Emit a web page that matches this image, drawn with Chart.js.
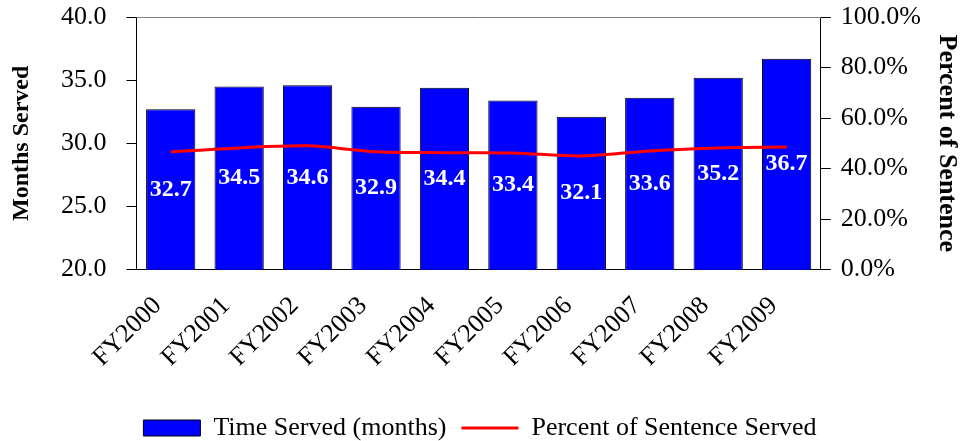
<!DOCTYPE html>
<html>
<head>
<meta charset="utf-8">
<script src="https://cdn.jsdelivr.net/npm/chart.js@4"></script>
<style>
  html, body { margin: 0; padding: 0; background: #fff; }
  #wrap { width: 960px; height: 441px; position: relative; }
</style>
</head>
<body>
<div id="wrap"><canvas id="graf"></canvas></div>
<script>
// data
const roky = ['FY2000', 'FY2001', 'FY2002', 'FY2003', 'FY2004', 'FY2005', 'FY2006', 'FY2007', 'FY2008', 'FY2009'];
const mesice = [32.7, 34.5, 34.6, 32.9, 34.4, 33.4, 32.1, 33.6, 35.2, 36.7];
const procenta = [46.6, 48.2, 49.0, 46.7, 46.3, 46.2, 45.0, 47.0, 48.2, 48.5];

const pismo = 'Liberation Serif, Times New Roman, serif';

// popisky hodnot uprostred viditelne casti sloupcu
const popiskyPlugin = {
    id: 'popisky',
    afterDatasetsDraw(chart) {
        const ctx = chart.ctx;
        const meta = chart.getDatasetMeta(0);
        const spodek = chart.chartArea.bottom;
        ctx.save();
        ctx.fillStyle = '#fff';
        ctx.font = 'bold 24px ' + pismo;
        ctx.textAlign = 'center';
        ctx.textBaseline = 'middle';
        meta.data.forEach((bar, i) => {
            const stred = (bar.y + Math.min(bar.base, spodek)) / 2;
            ctx.fillText(mesice[i].toFixed(1), bar.x, stred);
        });
        ctx.restore();
    }
};

// horni okraj plochy grafu (sedy)
const okrajPlugin = {
    id: 'okraj',
    beforeDatasetsDraw(chart) {
        const a = chart.chartArea;
        const ctx = chart.ctx;
        ctx.save();
        ctx.strokeStyle = '#808080';
        ctx.lineWidth = 1;
        ctx.beginPath();
        ctx.moveTo(a.left, a.top + 0.5);
        ctx.lineTo(a.right, a.top + 0.5);
        ctx.stroke();
        ctx.restore();
    }
};

// mensi horni odsazeni svislych os
const horniOdsazeni = scale => { scale.paddingTop = 17; };

new Chart(document.getElementById('graf'), {
    type: 'bar',
    data: {
        labels: roky,
        datasets: [{
            label: 'Time Served (months)',
            data: mesice,
            backgroundColor: '#0000ff',
            borderColor: '#000',
            borderWidth: 1,
            barPercentage: 0.72,
            categoryPercentage: 1.0,
            yAxisID: 'y',
            order: 1
        }, {
            type: 'line',
            label: 'Percent of Sentence Served',
            data: procenta,
            borderColor: '#ff0000',
            backgroundColor: '#ff0000',
            borderWidth: 3,
            pointRadius: 0,
            tension: 0.3,
            yAxisID: 'y2',
            order: 0
        }]
    },
    options: {
        responsive: true,
        maintainAspectRatio: false,
        animation: false,
        layout: { padding: { top: 0, left: 0, right: 0, bottom: -10 } },
        plugins: {
            tooltip: { enabled: false },
            legend: {
                position: 'bottom',
                labels: {
                    color: '#000',
                    font: { family: pismo, size: 26 },
                    usePointStyle: true,
                    pointStyleWidth: 57,
                    boxHeight: 16,
                    padding: 15,
                    sort: (a, b) => a.datasetIndex - b.datasetIndex,
                    generateLabels: function(chart) {
                        const items = Chart.defaults.plugins.legend.labels.generateLabels(chart);
                        items.forEach(it => {
                            if (it.datasetIndex === 0) {
                                it.pointStyle = 'rect';
                                it.fillStyle = '#0000ff';
                                it.strokeStyle = '#000';
                                it.lineWidth = 1;
                            } else {
                                it.pointStyle = 'line';
                                it.strokeStyle = '#ff0000';
                                it.lineWidth = 3;
                            }
                        });
                        return items;
                    }
                }
            }
        },
        scales: {
            x: {
                grid: { display: false, drawTicks: false },
                border: { display: true, color: '#000', width: 1 },
                ticks: {
                    color: '#000',
                    font: { family: pismo, size: 26 },
                    maxRotation: 45,
                    minRotation: 45,
                    padding: 21,
                    labelOffset: -13
                },
                afterFit: scale => { scale.height += 6; }
            },
            y: {
                position: 'left',
                min: 20,
                max: 40,
                grid: { drawOnChartArea: false, tickLength: 10, color: '#000' },
                border: { display: true, color: '#000', width: 1 },
                ticks: {
                    stepSize: 5,
                    color: '#000',
                    font: { family: pismo, size: 26 },
                    padding: 20,
                    callback: v => v.toFixed(1)
                },
                title: {
                    display: true,
                    text: 'Months Served',
                    color: '#000',
                    font: { family: pismo, size: 24, weight: 'bold', lineHeight: 1 },
                    padding: { top: 10, bottom: 7 }
                },
                afterFit: horniOdsazeni
            },
            y2: {
                position: 'right',
                min: 0,
                max: 100,
                grid: { drawOnChartArea: false, tickLength: 10, color: '#000' },
                border: { display: true, color: '#000', width: 1 },
                ticks: {
                    stepSize: 20,
                    color: '#000',
                    font: { family: pismo, size: 26 },
                    padding: 10,
                    callback: v => v.toFixed(1) + '%'
                },
                title: {
                    display: true,
                    text: 'Percent of Sentence',
                    color: '#000',
                    font: { family: pismo, size: 26, weight: 'bold', lineHeight: 1 },
                    padding: { top: 0, bottom: 3 }
                },
                afterFit: horniOdsazeni
            }
        }
    },
    plugins: [popiskyPlugin, okrajPlugin]
});
</script>
</body>
</html>
